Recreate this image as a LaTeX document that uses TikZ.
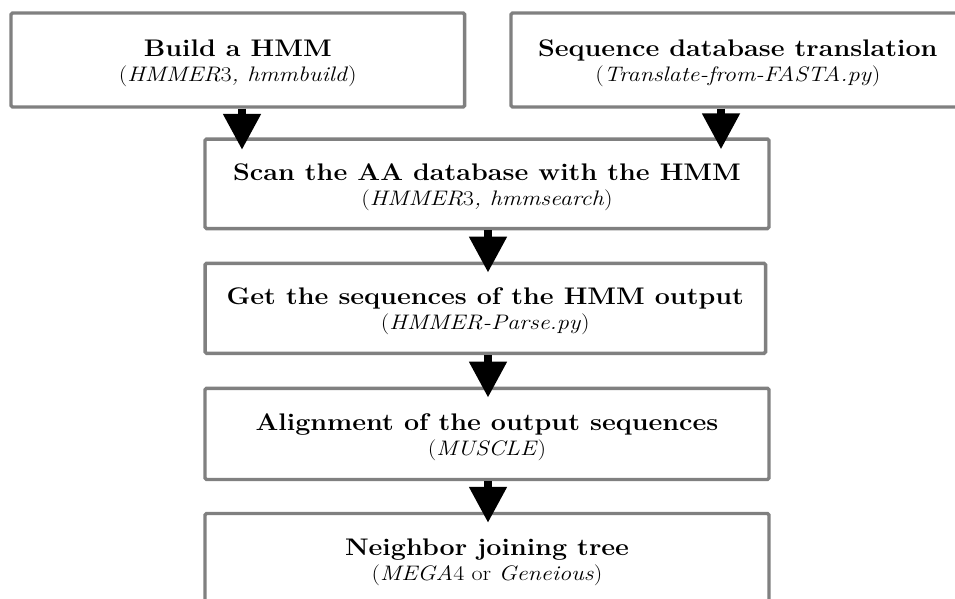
\documentclass[tikz,border=0pt]{standalone}
\usepackage{fontspec}
\setmainfont{Latin Modern Roman}
\usetikzlibrary{arrows.meta,calc}
\definecolor{boxgray}{RGB}{128,128,128}
\newcommand{\ttl}[1]{{\fontsize{24}{25}\selectfont\bfseries\addfontfeature{FakeStretch=1.12}\rule{0pt}{23pt}#1}}
\newcommand{\subt}[1]{{\fontsize{21}{25}\selectfont\addfontfeature{FakeStretch=1.15}#1}}
\tikzset{
  stepbox/.style={draw=boxgray, line width=3.4pt, rounded corners=1.5pt, fill=white,
    align=center, inner sep=0pt, font=\fontsize{21}{25}\selectfont},
  arr/.style={line width=8pt, -{Triangle[width=36pt,length=36pt]}, black},
}
\begin{document}
\begin{tikzpicture}[x=1pt,y=-1pt]
\useasboundingbox (0,0) rectangle (955,598);
\clip (0,0) rectangle (955,598);
\node[stepbox, minimum width=453.7pt, minimum height=94pt] (b1) at (237.8,60)
  {\ttl{Build a HMM}\\\subt{(\textit{HMMER}3\textit{, hmmbuild})}};
\node[stepbox, minimum width=453.7pt, minimum height=94pt] (b2) at (737.8,60)
  {\ttl{Sequence database translation}\\\subt{(\textit{Translate-from-FASTA.py})}};
\node[stepbox, minimum width=564pt, minimum height=89.5pt] (b3) at (487,183.8)
  {\ttl{Scan the AA database with the HMM}\\\subt{(\textit{HMMER}3\textit{, hmmsearch})}};
\node[stepbox, minimum width=560.5pt, minimum height=90pt] (b4) at (485.3,308.3)
  {\ttl{Get the sequences of the HMM output}\\\subt{(\textit{HMMER-Parse.py})}};
\node[stepbox, minimum width=564pt, minimum height=91.2pt] (b5) at (487,433.9)
  {\ttl{Alignment of the output sequences}\\\subt{(\textit{MUSCLE})}};
\node[stepbox, minimum width=564pt, minimum height=91pt] (b6) at (487,559)
  {\ttl{Neighbor joining tree}\\\subt{(\textit{MEGA}4 or \textit{Geneious})}};
\coordinate (a1) at ([xshift=4.2pt]b1.south);
\coordinate (a2) at ([xshift=-16.8pt]b2.south);
\coordinate (a3) at ([xshift=1pt]b3.south);
\coordinate (a4) at ([xshift=2.7pt]b4.south);
\coordinate (a5) at ([xshift=1pt]b5.south);
\draw[arr] (a1) -- ($(a1 |- b3.north)+(0,12.5)$);
\draw[arr] (a2) -- ($(a2 |- b3.north)+(0,12)$);
\draw[arr] (a3) -- ($(a3 |- b4.north)+(0,11)$);
\draw[arr] (a4) -- ($(a4 |- b5.north)+(0,11)$);
\draw[arr] (a5) -- ($(a5 |- b6.north)+(0,11)$);
\end{tikzpicture}
\end{document}
